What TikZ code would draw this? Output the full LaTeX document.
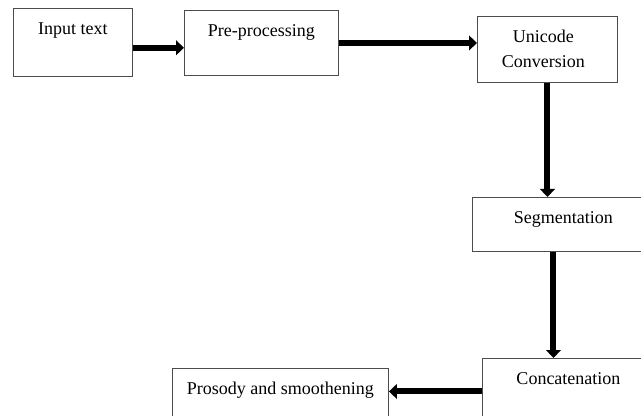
\documentclass[tikz,border=0pt]{standalone}
\usepackage{fontspec}
\setmainfont{Liberation Serif}
\usetikzlibrary{arrows.meta}

\tikzset{
  box/.style={draw=black!70, line width=0.7pt, anchor=north west, inner sep=0pt},
  txt/.style={anchor=base, yshift=-20pt, inner sep=0pt, align=center,
    font=\fontsize{13.5}{18.75}\selectfont},
  flow/.style={line width=4.5pt, -{Triangle[length=6pt,width=11pt]}},
}

\begin{document}
\begin{tikzpicture}[x=0.75pt, y=-0.75pt]
  \useasboundingbox (0,0) rectangle (641,416);
  \clip (0,0) rectangle (641,416);
  % blocks
  \node[box, minimum width=89.25pt, minimum height=51pt,
    label={[txt]north:Input text}] (inp) at (13,8) {};
  \node[box, minimum width=115.5pt, minimum height=48.75pt,
    label={[txt]north:Pre-processing}] (pre) at (184,10) {};
  \node[box, minimum width=105pt, minimum height=49.5pt,
    label={[txt, xshift=-3pt, yshift=-18.75pt]north:Unicode\\Conversion}] (uni) at (477,16) {};
  \node[box, minimum width=136.5pt, minimum height=40.5pt,
    label={[txt]north:Segmentation}] (seg) at (472,197) {};
  \node[box, minimum width=129pt, minimum height=49.5pt,
    label={[txt]north:Concatenation}] (cat) at (482,358) {};
  \node[box, minimum width=162pt, minimum height=46.5pt,
    label={[txt]north:Prosody and smoothening}] (pro) at (172,368) {};
  % arrows
  \draw[flow] ([yshift=-4pt]inp.east) coordinate (a1) -- (a1 -| pre.west);
  \draw[flow] (pre.east) -- (pre.east -| uni.west);
  \draw[flow] (uni.south) -- (uni.south |- seg.north);
  \draw[flow] ([xshift=-7.5pt]seg.south) coordinate (a4) -- (a4 |- cat.north);
  \draw[flow] (cat.west) -- (cat.west -| pro.east);
\end{tikzpicture}
\end{document}
